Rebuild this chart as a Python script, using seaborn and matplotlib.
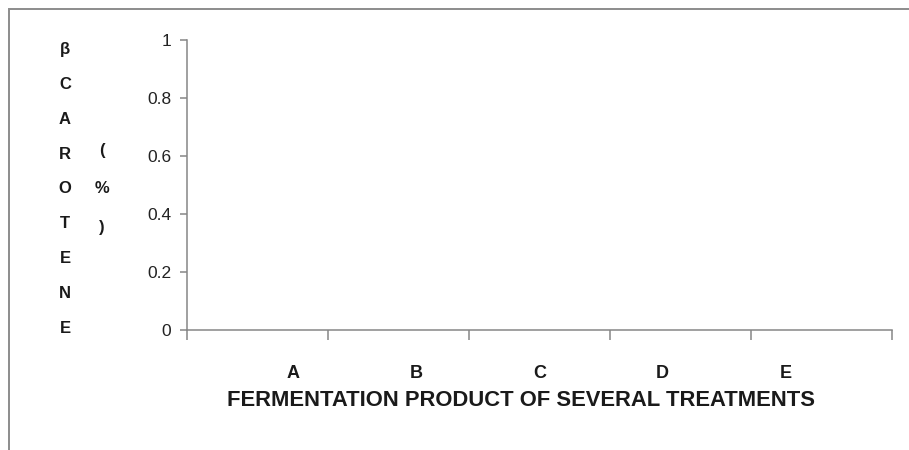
import numpy as np
import pandas as pd
import matplotlib
matplotlib.use("Agg")
import matplotlib.pyplot as plt
import seaborn as sns
from matplotlib.patches import Rectangle
from matplotlib.ticker import FuncFormatter

# data: the chart shows no visible bars, so every value reads as zero
treatments = ["A", "B", "C", "D", "E"]
beta_carotene = [0, 0, 0, 0, 0]
y_ticks = [0, 0.2, 0.4, 0.6, 0.8, 1]

x_title = "FERMENTATION PRODUCT OF SEVERAL TREATMENTS"
y_title = "β\nC\nA\nR\nO\nT\nE\nN\nE"
y_unit = "(\n%\n)"

sns.set_style("ticks")
plt.rcParams["font.family"] = ["Liberation Sans", "DejaVu Sans"]

axis_grey = "#868686"
text_col = "#1a1a1a"

df = pd.DataFrame({"treatment": treatments, "value": beta_carotene})

fig = plt.figure(figsize=(9.09, 4.5), dpi=100)
ax = fig.add_axes([186.7 / 909, 1 - 330 / 450, (892 - 186.7) / 909, 290 / 450])

sns.barplot(data=df, x="treatment", y="value", color="#4f81bd", ax=ax)

ax.set_ylim(0, 1)
ax.set_xlim(-0.5, len(treatments) - 0.5)
ax.set_yticks(y_ticks)
ax.yaxis.set_major_formatter(FuncFormatter(lambda v, _: f"{v:g}"))

# category labels sit a bit toward the middle, boundaries carry the tick marks
n = len(treatments)
centre = (n - 1) / 2
ax.set_xticks([centre + (i - centre) * 0.873 for i in range(n)])
ax.set_xticklabels(treatments, fontweight="bold")
ax.set_xticks(np.arange(-0.5, n, 1.0), minor=True)
ax.tick_params(axis="x", which="major", length=0, pad=25, labelsize=13, labelcolor=text_col)
ax.tick_params(axis="x", which="minor", length=7.5, width=1.1, color=axis_grey)
ax.tick_params(axis="y", length=5, width=1.1, color=axis_grey, pad=6, labelsize=12.5, labelcolor="#222222")

sns.despine(ax=ax)
for s in ["left", "bottom"]:
    ax.spines[s].set_color(axis_grey)
    ax.spines[s].set_linewidth(1.1)

ax.set_xlabel(x_title, fontsize=15.8, fontweight="bold", color=text_col)
ax.xaxis.set_label_coords((521 - 186.7) / 705.3, (330 - 400) / 290)
ax.xaxis.label.set_va("center")

ax.set_ylabel("")
fig.text(65 / 909, 1 - 189 / 450, y_title, ha="center", va="center",
         fontsize=12, fontweight="bold", linespacing=2.66, color=text_col)
fig.text(102 / 909, 1 - 189 / 450, y_unit, ha="center", va="center",
         fontsize=12, fontweight="bold", linespacing=2.95, color=text_col)

# outer chart border (cropped on the right and bottom)
fig.patches.append(Rectangle((9 / 909, -0.2), 1.2, 1.2 - 9 / 450, transform=fig.transFigure,
                             fill=False, edgecolor="#8c8c8c", linewidth=1.4))

fig.savefig("out.png", dpi=100)
